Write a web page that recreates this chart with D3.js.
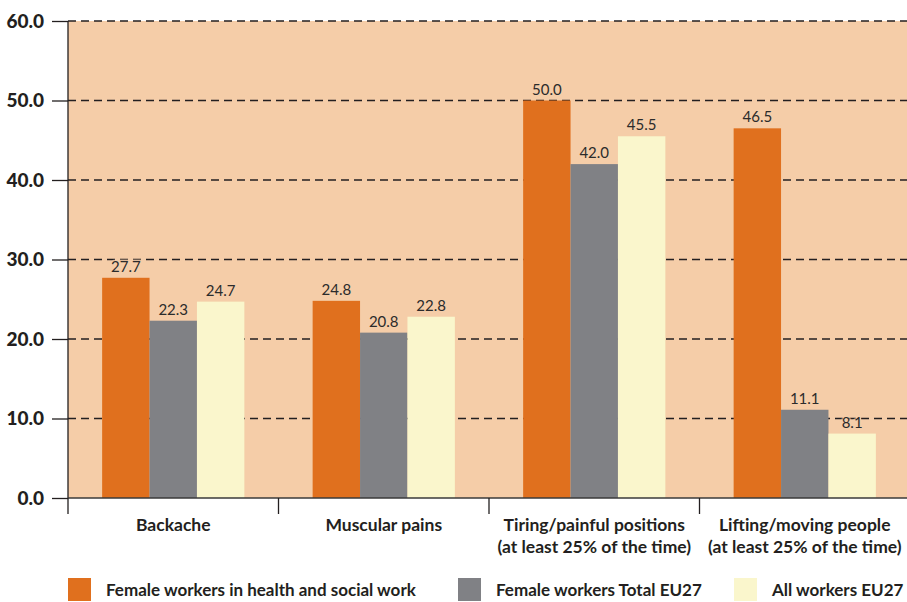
<!DOCTYPE html>
<html><head><meta charset="utf-8">
<script src="https://cdn.jsdelivr.net/npm/d3@7/dist/d3.min.js"></script>
<style>
html,body{margin:0;padding:0;background:#fff;}
svg text{font-family:Lato,"Noto Sans",sans-serif;}
</style></head>
<body><svg id="c" width="907" height="602"></svg>
<script>
const categories = [
  ["Backache"],
  ["Muscular pains"],
  ["Tiring/painful positions", "(at least 25% of the time)"],
  ["Lifting/moving people", "(at least 25% of the time)"]
];
const seriesNames = ["Female workers in health and social work", "Female workers Total EU27", "All workers EU27"];
const femaleHealth = [27.7, 24.8, 50.0, 46.5];
const femaleTotal = [22.3, 20.8, 42.0, 11.1];
const allWorkers = [24.7, 22.8, 45.5, 8.1];
const yTicks = [0, 10, 20, 30, 40, 50, 60];
const colors = ["#E0701E", "#808185", "#FAF6CC"];

const series = [femaleHealth, femaleTotal, allWorkers];
const svg = d3.select("#c");
const L = 68, R = 910, T = 21, B = 498;

const x0 = d3.scaleBand().domain(d3.range(categories.length)).range([L, R]).paddingInner(0).paddingOuter(0);
const x1 = d3.scaleBand().domain(d3.range(series.length)).range([0, x0.bandwidth()]).paddingOuter(0.72).paddingInner(0);
const y = d3.scaleLinear().domain([0, 60]).range([B, T]);

// background
svg.append("rect").attr("x", L).attr("y", T).attr("width", R - L).attr("height", B - T).attr("fill", "#F5CDA8");

// gridlines
svg.append("g").selectAll("line").data(yTicks.filter(d => d > 0)).join("line")
  .attr("x1", L).attr("x2", R).attr("y1", d => y(d)).attr("y2", d => y(d))
  .attr("stroke", "#231f20").attr("stroke-width", 1.3).attr("stroke-dasharray", "8,5");

// bars
const g = svg.append("g").selectAll("g").data(categories).join("g")
  .attr("transform", (d, i) => `translate(${x0(i)},0)`);
g.selectAll("rect").data((d, i) => series.map((s, k) => ({k, v: s[i]}))).join("rect")
  .attr("x", d => x1(d.k)).attr("width", x1.bandwidth())
  .attr("y", d => y(d.v)).attr("height", d => B - y(d.v))
  .attr("fill", d => colors[d.k]);
g.selectAll("text").data((d, i) => series.map((s, k) => ({k, v: s[i]}))).join("text")
  .attr("x", d => x1(d.k) + x1.bandwidth() / 2).attr("y", d => y(d.v) - 6)
  .attr("text-anchor", "middle").attr("font-size", 15).attr("fill", "#2b2b2b")
  .attr("paint-order", "stroke").attr("stroke", "#F5CDA8").attr("stroke-opacity", 0.6).attr("stroke-width", 3)
  .text(d => d.v.toFixed(1));

// y axis
const yAxis = d3.axisLeft(y).tickValues(yTicks).tickFormat(d3.format(".1f")).tickSize(16).tickPadding(8);
const ya = svg.append("g").attr("transform", `translate(${L},0)`).call(yAxis);
ya.select(".domain").attr("stroke", "#231f20").attr("stroke-width", 1.3).attr("d", `M0,${T}V${B}`);
ya.selectAll(".tick line").attr("stroke", "#231f20").attr("stroke-width", 1.3);
ya.selectAll(".tick text").attr("font-size", 19).attr("font-weight", "900").attr("fill", "#231f20")
  .attr("font-family", 'Lato,"Noto Sans",sans-serif');

// x axis
svg.append("line").attr("x1", L).attr("x2", R).attr("y1", B).attr("y2", B).attr("stroke", "#3a3a3a").attr("stroke-width", 1.5);
svg.append("g").selectAll("line").data(d3.range(categories.length)).join("line")
  .attr("x1", i => x0(i)).attr("x2", i => x0(i)).attr("y1", B).attr("y2", B + 16)
  .attr("stroke", "#231f20").attr("stroke-width", 1.3);
const cl = svg.append("g").selectAll("text").data(categories).join("text")
  .attr("x", (d, i) => x0(i) + x0.bandwidth() / 2).attr("y", 531)
  .attr("text-anchor", "middle").attr("font-size", 17.5).attr("font-weight", "bold").attr("fill", "#231f20");
cl.selectAll("tspan").data(d => d).join("tspan")
  .attr("x", function() { return d3.select(this.parentNode).attr("x"); })
  .attr("dy", (d, j) => j === 0 ? 0 : 22).text(d => d);

// legend
const legX = [68, 458, 734];
const lg = svg.append("g").selectAll("g").data(seriesNames).join("g")
  .attr("transform", (d, i) => `translate(${legX[i]},578)`);
lg.append("rect").attr("width", 23).attr("height", 23).attr("fill", (d, i) => colors[i]);
lg.append("text").attr("x", 38).attr("y", 18).attr("font-size", 17).attr("font-weight", "bold")
  .attr("fill", "#231f20").text(d => d);
</script></body></html>
